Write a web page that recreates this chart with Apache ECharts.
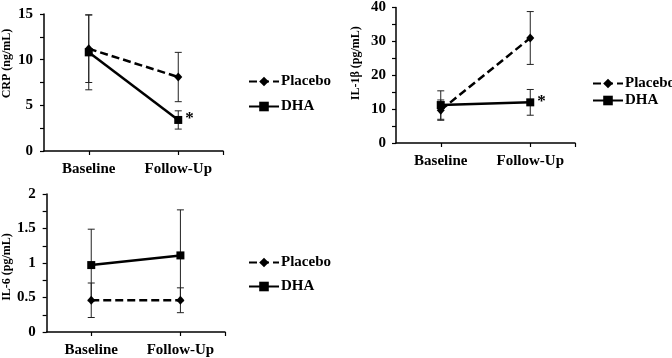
<!DOCTYPE html>
<html>
<head>
<meta charset="utf-8">
<script src="https://cdn.jsdelivr.net/npm/echarts@6/dist/echarts.min.js"></script>
<style>
  html, body { margin: 0; padding: 0; background: #fff; }
  #chart { width: 672px; height: 358px; }
</style>
</head>
<body>
<div id="chart"></div>
<script>
// categories on the x axis
var categories = ['Baseline', 'Follow-Up'];

// CRP (ng/mL)
var crpPlacebo = [11.2, 8.1];
var crpPlaceboErr = [3.7, 2.7];
var crpDha = [10.8, 3.4];
var crpDhaErr = [4.1, 1.0];
var crpSig = ['', '*'];
var crpTicks = [0, 5, 10, 15];

// IL-1β (pg/mL)
var il1Placebo = [9.7, 31.0];
var il1PlaceboErr = [3.0, 7.8];
var il1Dha = [11.2, 12.0];
var il1DhaErr = [4.2, 3.8];
var il1Sig = ['', '*'];
var il1Ticks = [0, 10, 20, 30, 40];

// IL-6 (pg/mL)
var il6Placebo = [0.46, 0.46];
var il6PlaceboErr = [0.25, 0.18];
var il6Dha = [0.97, 1.11];
var il6DhaErr = [0.52, 0.66];
var il6Sig = ['', ''];
var il6Ticks = [0, 0.5, 1, 1.5, 2];

var FONT = 'Liberation Serif';
var chart = echarts.init(document.getElementById('chart'));

var panels = [
    {name: 'CRP (ng/mL)', placebo: crpPlacebo, pErr: crpPlaceboErr, dha: crpDha, dErr: crpDhaErr, sig: crpSig, ticks: crpTicks,
     grid: {left: 43, top: 14, width: 180, height: 137}, namePad: [0, 0, 0, 38], nameGap: 31, labelMargin: 11,
     legend: {left: 243, top: 69, itemGap: 10}},
    {name: 'IL-1β (pg/mL)', placebo: il1Placebo, pErr: il1PlaceboErr, dha: il1Dha, dErr: il1DhaErr, sig: il1Sig, ticks: il1Ticks,
     grid: {left: 396, top: 6, width: 179, height: 137}, namePad: [0, 0, 0, 24], nameGap: 34, labelMargin: 10,
     legend: {left: 587, top: 71, itemGap: 2}},
    {name: 'IL-6 (pg/mL)', placebo: il6Placebo, pErr: il6PlaceboErr, dha: il6Dha, dErr: il6DhaErr, sig: il6Sig, ticks: il6Ticks,
     grid: {left: 45, top: 194, width: 180, height: 138}, namePad: [0, 8, 0, 0], nameGap: 33, labelMargin: 11,
     legend: {left: 243, top: 250, itemGap: 9}}
];

var catPos = categories.map(function (c, i) { return i + 0.5; });

// 误差线
function errorBarItem(params, api) {
    var x = api.value(0);
    var lo = api.coord([x, api.value(1)]);
    var hi = api.coord([x, api.value(2)]);
    var cap = 3.5;
    var style = {stroke: '#222', lineWidth: 1};
    return {
        type: 'group',
        children: [
            {type: 'line', shape: {x1: lo[0], y1: lo[1], x2: hi[0], y2: hi[1]}, style: style},
            {type: 'line', shape: {x1: lo[0] - cap, y1: lo[1], x2: lo[0] + cap, y2: lo[1]}, style: style},
            {type: 'line', shape: {x1: hi[0] - cap, y1: hi[1], x2: hi[0] + cap, y2: hi[1]}, style: style}
        ]
    };
}

var grids = [], xAxes = [], yAxes = [], legends = [], series = [];

panels.forEach(function (p, k) {
    grids.push(p.grid);
    xAxes.push({
        gridIndex: k,
        type: 'value',
        min: 0,
        max: categories.length,
        splitLine: {show: false},
        axisLine: {lineStyle: {color: '#000', width: 1.5}},
        axisTick: {customValues: catPos.concat([categories.length]), length: 4, lineStyle: {color: '#000', width: 1.2}},
        axisLabel: {
            customValues: catPos,
            margin: 11,
            color: '#000',
            fontFamily: FONT,
            fontWeight: 'bold',
            fontSize: 15,
            formatter: function (v) { return categories[Math.round(v - 0.5)]; }
        }
    });
    var step = p.ticks[1] - p.ticks[0];
    yAxes.push({
        gridIndex: k,
        type: 'value',
        min: p.ticks[0],
        max: p.ticks[p.ticks.length - 1],
        interval: step,
        name: p.name,
        nameLocation: 'middle',
        nameGap: p.nameGap,
        nameRotate: 90,
        nameTextStyle: {color: '#000', fontFamily: FONT, fontWeight: 'bold', fontSize: 12, padding: p.namePad},
        splitLine: {show: false},
        axisLine: {show: true, lineStyle: {color: '#000', width: 1.5}},
        axisTick: {show: true, length: 4, lineStyle: {color: '#000', width: 1.2}},
        minorTick: {show: true, splitNumber: 2, length: 4, lineStyle: {color: '#000', width: 1.2}},
        axisLabel: {color: '#000', fontFamily: FONT, fontWeight: 'bold', fontSize: 15, margin: p.labelMargin}
    });
    legends.push({
        orient: 'vertical',
        left: p.legend.left,
        top: p.legend.top,
        itemGap: p.legend.itemGap,
        itemWidth: 30,
        itemHeight: 12,
        textStyle: {color: '#000', fontFamily: FONT, fontWeight: 'bold', fontSize: 15, padding: [0, 0, 0, -3]},
        data: ['Placebo', 'DHA']
    });

    var pBars = p.placebo.map(function (v, i) { return [catPos[i], v - p.pErr[i], v + p.pErr[i]]; });
    var dBars = p.dha.map(function (v, i) { return [catPos[i], v - p.dErr[i], v + p.dErr[i]]; });
    series.push({
        type: 'custom',
        xAxisIndex: k, yAxisIndex: k,
        renderItem: errorBarItem,
        data: pBars.concat(dBars),
        silent: true,
        z: 1
    });
    series.push({
        name: 'Placebo',
        type: 'line',
        xAxisIndex: k, yAxisIndex: k,
        symbol: 'diamond',
        symbolSize: [8, 9],
        color: '#000',
        lineStyle: {color: '#000', width: 2.5, type: [8, 4]},
        itemStyle: {color: '#000'},
        data: p.placebo.map(function (v, i) { return [catPos[i], v]; }),
        z: 3
    });
    series.push({
        name: 'DHA',
        type: 'line',
        xAxisIndex: k, yAxisIndex: k,
        symbol: 'rect',
        symbolSize: 8,
        color: '#000',
        lineStyle: {color: '#000', width: 2.5},
        itemStyle: {color: '#000'},
        data: p.dha.map(function (v, i) {
            return {
                value: [catPos[i], v],
                label: {
                    show: p.sig[i] !== '',
                    formatter: p.sig[i],
                    position: 'right',
                    distance: 3,
                    offset: [0, -1],
                    color: '#000',
                    fontFamily: FONT,
                    fontWeight: 'bold',
                    fontSize: 17
                }
            };
        }),
        z: 4
    });
});

var option = {
    backgroundColor: '#fff',
    animation: false,
    grid: grids,
    xAxis: xAxes,
    yAxis: yAxes,
    legend: legends,
    series: series
};
chart.setOption(option);
</script>
</body>
</html>
